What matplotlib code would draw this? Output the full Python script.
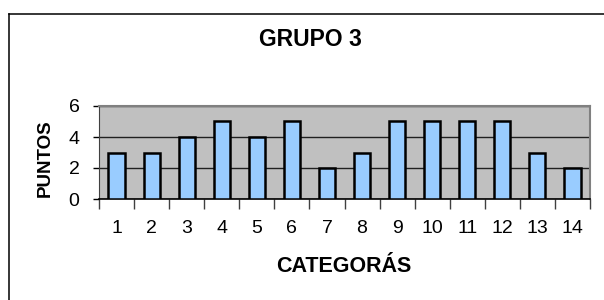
import numpy as np
import matplotlib
matplotlib.use("Agg")
import matplotlib.pyplot as plt
from matplotlib.lines import Line2D

plt.rcParams.update({"font.family": ["Liberation Sans", "DejaVu Sans"]})

categorias = [str(i) for i in range(1, 15)]
puntos = [3, 3, 4, 5, 4, 5, 2, 3, 5, 5, 5, 5, 3, 2]
yticks = [0, 2, 4, 6]

W, H = 604, 300
fig = plt.figure(figsize=(W / 100, H / 100), dpi=100)
fig.patch.set_facecolor("white")

# marco del gráfico: solo se ven el borde izquierdo y el superior
x0, y0 = 8.5 / W, 1 - 13.5 / H
fig.add_artist(Line2D([x0, x0], [0, y0], transform=fig.transFigure,
                      color="black", lw=1.1))
fig.add_artist(Line2D([x0, 1], [y0, y0], transform=fig.transFigure,
                      color="black", lw=1.1))

ax = fig.add_axes([99 / W, 101 / H, 491 / W, 93 / H])
ax.set_facecolor("#C0C0C0")
x = np.arange(1, len(puntos) + 1)
ax.bar(x, puntos, width=0.46, color="#99CCFF", edgecolor="black",
       linewidth=1.8, zorder=3)

ax.set_xlim(0.5, len(puntos) + 0.5)
ax.set_ylim(0, 6)
ax.set_yticks(yticks)
ax.set_yticklabels([str(v) for v in yticks], fontsize=14)
ax.yaxis.grid(True, color="#202020", lw=1.0, zorder=1)
ax.tick_params(axis="y", length=4, width=1, pad=10, colors="black")

ax.set_xticks(x)
ax.set_xticklabels(categorias, fontsize=14)
ax.tick_params(axis="x", which="major", length=0, pad=15)
ax.set_xticks(np.arange(0.5, len(puntos) + 1, 1), minor=True)
ax.tick_params(axis="x", which="minor", length=7, width=1, color="#404040")

for s in ["top", "right"]:
    ax.spines[s].set_color("#808080")
    ax.spines[s].set_linewidth(1.5)
ax.spines["left"].set_color("#404040")
ax.spines["bottom"].set_color("black")
ax.spines["bottom"].set_linewidth(1.2)

ax.set_ylabel("PUNTOS", fontsize=13.5, fontweight="bold")
ax.yaxis.set_label_coords(-0.093, 0.435)
fig.text(344 / W, 1 - 267 / H, "CATEGORÁS", ha="center", va="center",
         fontsize=15.5, fontweight="bold")
fig.text(310 / W, 1 - 40 / H, "GRUPO 3", ha="center", va="center",
         fontsize=16.5, fontweight="bold")

fig.savefig("out.png", dpi=100)
